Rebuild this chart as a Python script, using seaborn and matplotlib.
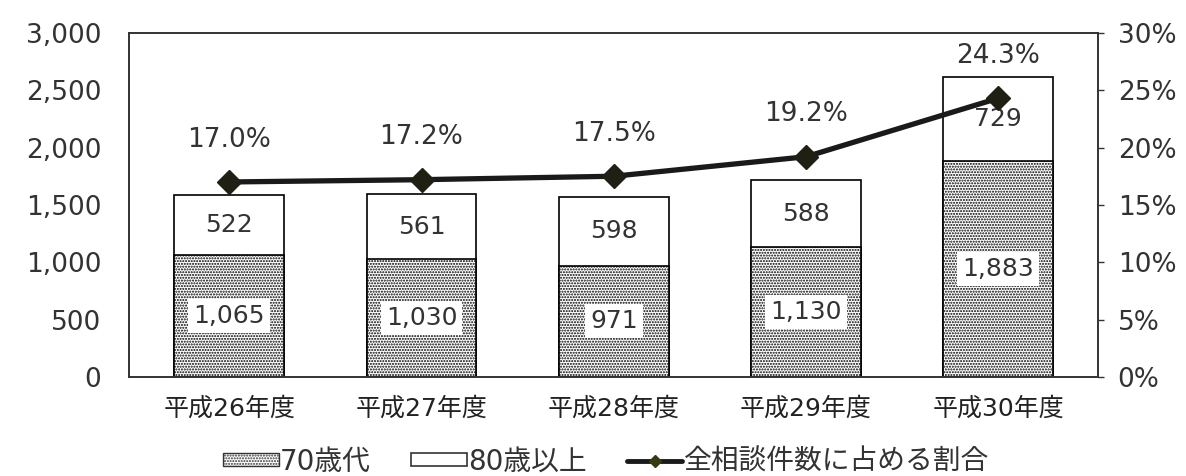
import matplotlib
matplotlib.use("Agg")
import matplotlib.pyplot as plt
import seaborn as sns
import pandas as pd
from matplotlib.patches import Patch
from matplotlib.lines import Line2D

years = ["平成26年度", "平成27年度", "平成28年度", "平成29年度", "平成30年度"]
age70s = [1065, 1030, 971, 1130, 1883]
age80plus = [522, 561, 598, 588, 729]
share_pct = [17.0, 17.2, 17.5, 19.2, 24.3]

sns.set_theme(style="white")
plt.rcParams["font.family"] = ["DejaVu Sans", "Noto Sans CJK JP"]
plt.rcParams["hatch.color"] = "#555555"
plt.rcParams["hatch.linewidth"] = 1.0

TXT = "#333333"

df = pd.DataFrame({
    "year": years,
    "a70": age70s,
    "a80": age80plus,
    "total": [a + b for a, b in zip(age70s, age80plus)],
    "share": [p / 100 for p in share_pct],
})

fig = plt.figure(figsize=(11.86, 4.76), dpi=100)
ax = fig.add_axes([0.109, 0.208, 0.817, 0.723])

# stacked bars: full total in white, then 70s segment hatched over it
sns.barplot(data=df, x="year", y="total", color="white", edgecolor="black",
            linewidth=1.2, width=0.57, ax=ax, saturation=1)
sns.barplot(data=df, x="year", y="a70", color="white", edgecolor="black",
            linewidth=1.2, width=0.57, ax=ax, saturation=1)
for p in ax.patches[len(years):]:
    p.set_hatch("......")

ax.set_ylim(0, 3000)
ax.set_yticks(range(0, 3001, 500))
ax.set_yticklabels([f"{v:,}" for v in range(0, 3001, 500)], fontsize=19, color=TXT)
ax.set_xlabel("")
ax.set_ylabel("")
ax.tick_params(axis="x", labelsize=18, length=0, pad=14, colors="#222222")
ax.tick_params(axis="y", length=0, pad=20)
for s in ax.spines.values():
    s.set_color("#333333")
    s.set_linewidth(1.2)

box = dict(boxstyle="square,pad=0.2", facecolor="white", edgecolor="none")
for i in range(len(years)):
    ax.text(i, age70s[i] / 2, f"{age70s[i]:,}", ha="center", va="center",
            fontsize=18, color=TXT, bbox=box)
    ax.text(i, age70s[i] + age80plus[i] / 2, f"{age80plus[i]:,}", ha="center",
            va="center", fontsize=18, color=TXT)

ax2 = ax.twinx()
ax2.plot(range(len(years)), df["share"], color="#1a1a1a", lw=3.8,
         marker="D", markersize=12, markerfacecolor="#1f1f14",
         markeredgecolor="#1f1f14", zorder=5)
ax2.set_ylim(0, 0.30)
ax2.set_yticks([i * 0.05 for i in range(7)])
ax2.set_yticklabels([f"{i * 5}%" for i in range(7)], fontsize=19, color=TXT)
ax2.tick_params(axis="y", direction="out", length=4, width=1, colors="#333333",
                labelcolor=TXT, pad=10)
for s in ax2.spines.values():
    s.set_color("#333333")
    s.set_linewidth(1.2)
for i, p in enumerate(share_pct):
    ax2.text(i, p / 100 + 0.037, f"{p:.1f}%", ha="center", va="center",
             fontsize=19, color=TXT)
ax2.set_xlim(-0.52, 4.52)
ax.set_xlim(-0.52, 4.52)

handles = [
    Patch(facecolor="white", edgecolor="#333333", hatch="......", linewidth=1),
    Patch(facecolor="white", edgecolor="#333333", linewidth=1.2),
    Line2D([0], [0], color="#1a1a1a", lw=3.5, marker="D", markersize=6,
           markerfacecolor="#3a3a10", markeredgecolor="#3a3a10"),
]
fig.legend(handles, ["70歳代", "80歳以上", "全相談件数に占める割合"],
           loc="center", bbox_to_anchor=(0.511, 0.03), ncol=3, frameon=False,
           fontsize=20, handlelength=2.0, handleheight=0.35, handletextpad=0.05,
           columnspacing=1.45, labelcolor=TXT)

fig.savefig("out.png", dpi=100)
